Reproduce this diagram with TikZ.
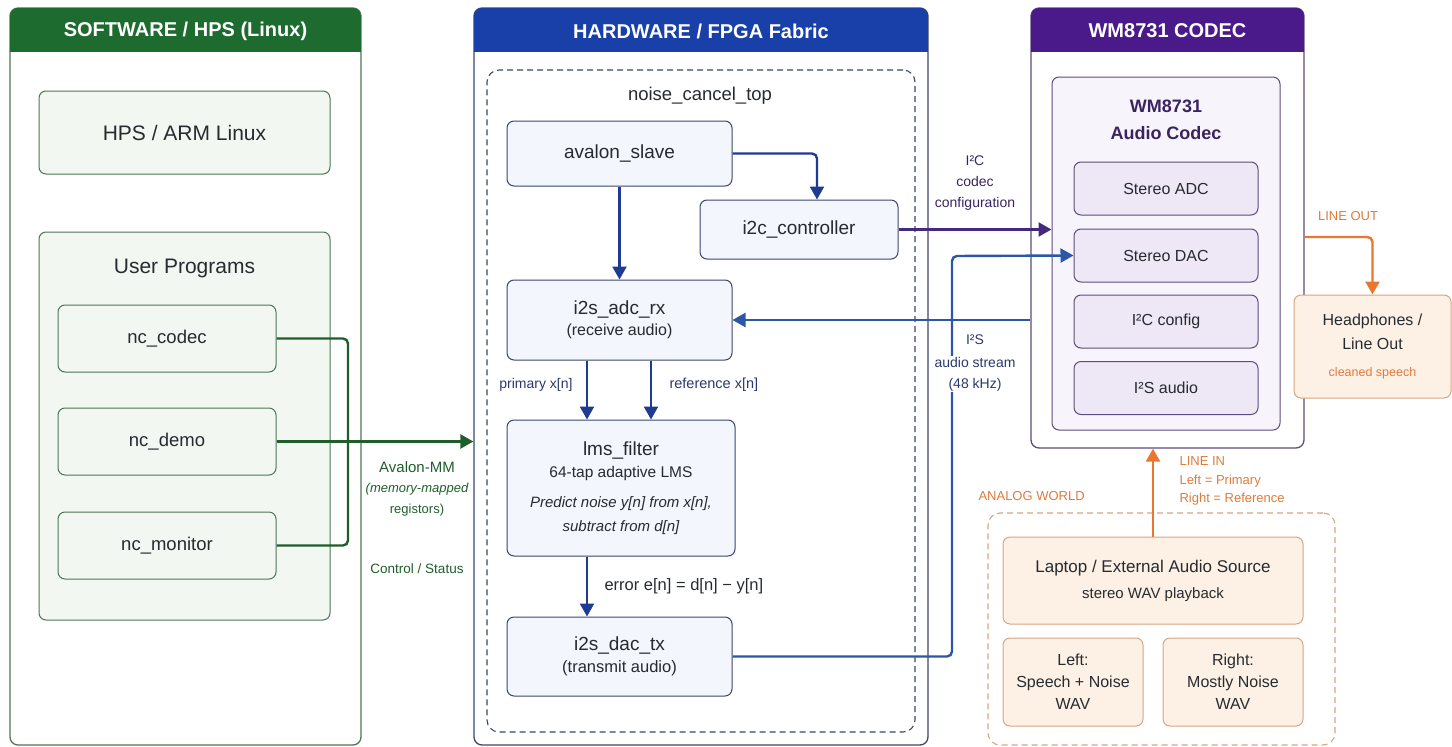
\documentclass[tikz,border=0pt]{standalone}
\usepackage{fontspec}
\setmainfont{Liberation Sans}
\usetikzlibrary{arrows.meta,positioning}

\definecolor{ink}{HTML}{262B30}
\definecolor{swgreen}{HTML}{1E6B2F}
\definecolor{swline}{HTML}{4F7556}
\definecolor{swfill}{HTML}{F2F8F1}
\definecolor{busgreen}{HTML}{1F5E2B}
\definecolor{hwblue}{HTML}{1840A8}
\definecolor{hwline}{HTML}{3A4670}
\definecolor{hwfill}{HTML}{F3F6FC}
\definecolor{hwarrow}{HTML}{1F3A93}
\definecolor{hwtext}{HTML}{2A3A6E}
\definecolor{cdpurple}{HTML}{4A1A8A}
\definecolor{cdline}{HTML}{5E4C7E}
\definecolor{cdinner}{HTML}{F7F4FB}
\definecolor{cdfill}{HTML}{EEE8F6}
\definecolor{cdtext}{HTML}{3A2460}
\definecolor{i2cline}{HTML}{45297F}
\definecolor{i2sline}{HTML}{2C56A6}
\definecolor{orangeline}{HTML}{E9772F}
\definecolor{orangetext}{HTML}{E07A3A}
\definecolor{anline}{HTML}{D9A580}
\definecolor{anfill}{HTML}{FDF1E6}

\begin{document}
\begin{tikzpicture}[x=1pt,y=-1pt]
    \tikzstyle{panel}=[rectangle,rounded corners=8pt,draw,line width=1.3pt,fill=white,inner sep=0pt]
    \tikzstyle{hdr}=[font=\fontsize{20}{22}\selectfont\bfseries,text=white]
    \tikzstyle{box}=[rectangle,rounded corners=7pt,draw,line width=1pt,inner sep=0pt,align=center,text=ink,font=\fontsize{19}{24}\selectfont]
    \tikzstyle{note}=[font=\fontsize{14}{21}\selectfont,align=center]
    \tikzstyle{flow}=[line width=2.4pt,-{Triangle[length=13pt,width=14pt]},rounded corners=5pt]
    \tikzstyle{frame}=[rectangle,rounded corners=12pt,dashed,dash pattern=on 6pt off 4pt,line width=1.1pt,inner sep=0pt]

    \tikzstyle{SW}=[box,fill=swfill,draw=swline]     % software side
    \tikzstyle{HW}=[box,fill=hwfill,draw=hwline]     % fpga blocks
    \tikzstyle{CD}=[box,fill=cdfill,draw=cdline]     % codec blocks
    \tikzstyle{AN}=[box,fill=anfill,draw=anline]     % analog world

    \useasboundingbox (0,0) rectangle (1452,747);

    % software / hps
    \node[panel,draw=swline,minimum width=351pt,minimum height=737pt] (sw) at (185.5,376.5) {};
    \begin{scope}
        \clip[rounded corners=8pt] (10,8) rectangle (361,745);
        \fill[swgreen] (10,8) rectangle (361,52);
    \end{scope}
    \node[hdr] (swhdr) at (185.5,31) {SOFTWARE / HPS (Linux)};

    \node[SW,minimum width=291pt,minimum height=83pt,font=\fontsize{21}{24}\selectfont] (hps) at (184.5,132.5) {HPS / ARM Linux};
    \node[SW,minimum width=291pt,minimum height=388pt] (user) at (184.5,426) {};
    \node[text=ink,font=\fontsize{21}{24}\selectfont] (userlbl) at (184.5,268) {User Programs};
    \node[SW,minimum width=218pt,minimum height=67pt,font=\fontsize{18.5}{22}\selectfont] (nccodec) at (167,338.5) {nc\_codec};
    \node[SW,minimum width=218pt,minimum height=67pt,font=\fontsize{18.5}{22}\selectfont] (ncdemo) at (167,441.5) {nc\_demo};
    \node[SW,minimum width=218pt,minimum height=67pt,font=\fontsize{18.5}{22}\selectfont] (ncmon) at (167,545.5) {nc\_monitor};

    % hardware / fpga
    \node[panel,draw=hwline,minimum width=454pt,minimum height=737pt] (hw) at (701,376.5) {};
    \begin{scope}
        \clip[rounded corners=8pt] (474,8) rectangle (928,745);
        \fill[hwblue] (474,8) rectangle (928,52);
    \end{scope}
    \node[hdr] (hwhdr) at (701,31) {HARDWARE / FPGA Fabric};

    \node[frame,draw=hwline,minimum width=428pt,minimum height=662pt] (top) at (701,401) {};
    \node[text=ink,font=\fontsize{18.5}{20}\selectfont] (toplbl) at (700,96) {noise\_cancel\_top};
    \node[HW,minimum width=225pt,minimum height=65pt] (avalon) at (619.5,153.5) {avalon\_slave};
    \node[HW,minimum width=198pt,minimum height=59pt] (i2cctl) at (799,229.5) {i2c\_controller};
    \node[HW,minimum width=225pt,minimum height=80pt] (adcrx) at (619.5,320) {i2s\_adc\_rx\\[-3pt]{\fontsize{16}{18}\selectfont(receive audio)}};
    \node[HW,minimum width=228pt,minimum height=136pt] (lms) at (621,488) {lms\_filter\\[-2pt]{\fontsize{15.5}{20}\selectfont 64-tap adaptive LMS}\\[6pt]{\fontsize{15}{22}\selectfont\itshape Predict noise y[n] from x[n],}\\{\fontsize{15}{22}\selectfont\itshape subtract from d[n]}};
    \node[HW,minimum width=225pt,minimum height=79pt] (dactx) at (619.5,656.5) {i2s\_dac\_tx\\[-2pt]{\fontsize{16.5}{18}\selectfont(transmit audio)}};

    % codec
    \node[panel,draw=cdline,minimum width=273pt,minimum height=440pt] (codec) at (1167.5,228) {};
    \begin{scope}
        \clip[rounded corners=8pt] (1031,8) rectangle (1304,448);
        \fill[cdpurple] (1031,8) rectangle (1304,52);
    \end{scope}
    \node[hdr] (cdhdr) at (1167.5,31) {WM8731 CODEC};

    \node[CD,fill=cdinner,minimum width=228pt,minimum height=353pt] (chip) at (1166,253.5) {};
    \node[align=center,text=cdtext,font=\fontsize{18}{27}\selectfont\bfseries] (chiplbl) at (1166,120) {WM8731\\Audio Codec};
    \node[CD,minimum width=184pt,minimum height=53pt,font=\fontsize{16}{20}\selectfont] (adc) at (1166,188.5) {Stereo ADC};
    \node[CD,minimum width=184pt,minimum height=53pt,font=\fontsize{16}{20}\selectfont] (dac) at (1166,255.5) {Stereo DAC};
    \node[CD,minimum width=184pt,minimum height=53pt,font=\fontsize{16}{20}\selectfont] (i2ccfg) at (1166,321.5) {I²C config};
    \node[CD,minimum width=184pt,minimum height=53pt,font=\fontsize{16}{20}\selectfont] (i2saud) at (1166,388) {I²S audio};

    % analog world
    \node[AN,minimum width=157pt,minimum height=103pt,font=\fontsize{16}{24}\selectfont] (hp) at (1372.5,346.5) {Headphones /\\Line Out\\[3pt]{\fontsize{12.5}{14}\selectfont\color{orangetext}cleaned speech}};
    \node[frame,draw=anline,minimum width=347pt,minimum height=232pt] (analog) at (1161.5,629) {};
    \node[anchor=west,text=orangetext,font=\fontsize{13}{16}\selectfont] (anlbl) at (975,496) {ANALOG WORLD};
    \node[AN,minimum width=300pt,minimum height=87pt,font=\fontsize{17}{26}\selectfont] (laptop) at (1153,580.5) {Laptop / External Audio Source\\{\fontsize{15}{18}\selectfont stereo WAV playback}};
    \node[AN,minimum width=140pt,minimum height=88pt,font=\fontsize{16}{22}\selectfont] (leftwav) at (1073,682) {Left:\\Speech + Noise\\WAV};
    \node[AN,minimum width=140pt,minimum height=88pt,font=\fontsize{16}{22}\selectfont] (rightwav) at (1233,682) {Right:\\Mostly Noise\\WAV};

    % avalon-mm bus
    \coordinate (busj) at (348,441.5);
    \draw[line width=2.4pt,draw=busgreen,rounded corners=5pt] (nccodec.east) -| (busj);
    \draw[line width=2.4pt,draw=busgreen,rounded corners=5pt] (ncmon.east) -| (busj);
    \draw[flow,draw=busgreen] (ncdemo.east) -- (ncdemo.east -| hw.west);
    \node[text=busgreen,font=\fontsize{15}{16}\selectfont] (avmm) at (417,467) {Avalon-MM};
    \node[note,text=busgreen,font=\fontsize{13}{21}\selectfont] (avmmsub) at (417,500) {{\itshape(memory-mapped}\\registors)};
    \node[note,text=busgreen,font=\fontsize{13.5}{16}\selectfont] (ctrl) at (417,569) {Control / Status};

    % inside the fabric
    \draw[flow,draw=hwarrow] (avalon.east) -| ([xshift=18pt]i2cctl.north);
    \draw[flow,draw=hwarrow] (avalon.south) -- (adcrx.north);
    \draw[flow,draw=hwarrow] ([xshift=-32.5pt]adcrx.south) -- ([xshift=-32.5pt]adcrx.south |- lms.north);
    \draw[flow,draw=hwarrow] ([xshift=31.5pt]adcrx.south) -- ([xshift=31.5pt]adcrx.south |- lms.north);
    \node[anchor=east,text=hwtext,font=\fontsize{14}{16}\selectfont] (primlbl) at (576,385) {primary x[n]};
    \node[anchor=west,text=hwtext,font=\fontsize{14.5}{16}\selectfont] (reflbl) at (666,385) {reference x[n]};
    \draw[flow,draw=hwarrow] ([xshift=-34pt]lms.south) -- ([xshift=-34pt]lms.south |- dactx.north);
    \node[anchor=west,text=ink,font=\fontsize{16.5}{18}\selectfont] (errlbl) at (601,586) {error e[n] = d[n] − y[n]};

    % fabric <-> codec
    \draw[flow,draw=i2cline] (i2cctl.east) -- (i2cctl.east -| chip.west);
    \node[note,text=cdtext] (i2clbl) at (975,183) {I²C\\codec\\configuration};
    \coordinate (i2sx) at (952,256);
    \draw[flow,draw=i2sline] (dactx.east) -| (i2sx) -- (dac.west);
    \draw[flow,draw=i2sline] (adcrx.east -| codec.west) -- (adcrx.east);
    \node[note,text=hwtext] (i2slbl) at (975,340) {I²S};
    \node[note,text=hwtext,fill=white,inner sep=1pt] (i2ssub) at (975,374) {audio stream\\(48 kHz)};

    % line in / line out
    \draw[flow,draw=orangeline] ([yshift=-9pt]codec.east) -| (hp.north);
    \node[text=orangetext,font=\fontsize{13}{16}\selectfont] (loutlbl) at (1348,216) {LINE OUT};
    \draw[flow,draw=orangeline] (laptop.north) -- (laptop.north |- codec.south);
    \node[anchor=west,align=left,text=orangetext,font=\fontsize{13}{18.5}\selectfont] (linlbl) at (1176,481) {LINE IN\\Left = Primary\\Right = Reference};
\end{tikzpicture}
\end{document}
